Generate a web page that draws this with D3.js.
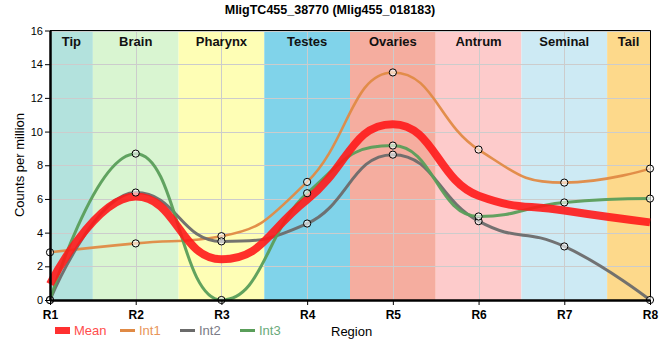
<!DOCTYPE html>
<html><head><meta charset="utf-8">
<script src="https://cdn.jsdelivr.net/npm/d3@7"></script>
<style>body{margin:0;background:#fff;font-family:"Liberation Sans",Arial,sans-serif;}</style>
</head><body><svg id="c" width="660" height="360"></svg>
<script>
const regions = ["R1","R2","R3","R4","R5","R6","R7","R8"];
const bandNames = ["Tip","Brain","Pharynx","Testes","Ovaries","Antrum","Seminal","Tail"];
const bandColors = ["#b3e2dd","#d9f5d1","#fefeb5","#80d3ea","#f5ad9f","#fdcbcb","#cdeaf4","#fdd98b"];
const int1 = [2.83, 3.36, 3.79, 7.01, 13.51, 8.93, 6.97, 7.80];
const int2 = [0, 6.38, 3.48, 4.54, 8.63, 4.68, 3.18, 0];
const int3 = [0, 8.69, 0, 6.34, 9.17, 4.96, 5.79, 6.02];
const mean = [0.94, 6.14, 2.42, 5.96, 10.44, 6.19, 5.31, 4.61];
const yTicks = [0,2,4,6,8,10,12,14,16];
const seriesNames = ["Mean","Int1","Int2","Int3"];
const seriesColors = ["#ff1a1a","#e08a45","#6b6b6b","#5a9e5a"];
const legendTextColors = ["#ff4d4d","#e8955a","#7a7a85","#6aaa7a"];

// Spline curve without overshoot (control-point smoothing)
function splineCurve(context){
  let pts = [];
  return {
    areaStart(){}, areaEnd(){},
    lineStart(){ pts = []; },
    point(px,py){ pts.push([+px,+py]); },
    lineEnd(){
      const n = pts.length, s = 1.1, d = s + 1;
      if(!n) return;
      const lc = [], rc = [];
      for(let i=0;i<n;i++){
        const [X,Y] = pts[i];
        if(i>0 && i<n-1){
          const [lX,lY] = pts[i-1], [nX,nY] = pts[i+1];
          const lcx=(s*X+lX)/d, rcx=(s*X+nX)/d;
          let lcy=(s*Y+lY)/d, rcy=(s*Y+nY)/d;
          const corr = ((rcy-lcy)*(rcx-X))/(rcx-lcx) + Y - rcy;
          lcy += corr; rcy += corr;
          if(lcy>lY && lcy>Y){ lcy=Math.max(lY,Y); rcy=2*Y-lcy; }
          else if(lcy<lY && lcy<Y){ lcy=Math.min(lY,Y); rcy=2*Y-lcy; }
          if(rcy>nY && rcy>Y){ rcy=Math.max(nY,Y); lcy=2*Y-rcy; }
          else if(rcy<nY && rcy<Y){ rcy=Math.min(nY,Y); lcy=2*Y-rcy; }
          lc[i]=[lcx,lcy]; rc[i]=[rcx,rcy];
        } else { lc[i]=[X,Y]; rc[i]=[X,Y]; }
      }
      context.moveTo(pts[0][0],pts[0][1]);
      for(let i=1;i<n;i++){
        context.bezierCurveTo(rc[i-1][0],rc[i-1][1],lc[i][0],lc[i][1],pts[i][0],pts[i][1]);
      }
    }
  };
}

const svg = d3.select("#c");
const L=50,R=650,T=30.5,B=300;
const x = d3.scalePoint().domain(regions).range([L,R]);
const step = x.step();
const y = d3.scaleLinear().domain([0,16]).range([B,T]);

// bands
const bg = svg.append("g");
bandNames.forEach((n,i)=>{
  const x0 = Math.max(L, x(regions[i]) - step/2), x1 = Math.min(R, x(regions[i]) + step/2);
  bg.append("rect").attr("x",x0).attr("y",T).attr("width",x1-x0).attr("height",B-T).attr("fill",bandColors[i]);
});
// grid
const grid = svg.append("g").attr("stroke","#cccccc").attr("stroke-width",1);
yTicks.forEach(t=>grid.append("line").attr("x1",L).attr("x2",R).attr("y1",Math.round(y(t))+0.5).attr("y2",Math.round(y(t))+0.5));
regions.forEach(r=>grid.append("line").attr("x1",Math.round(x(r))+0.5).attr("x2",Math.round(x(r))+0.5).attr("y1",T).attr("y2",B));
// band labels
bandNames.forEach((n,i)=>{
  const x0 = Math.max(L, x(regions[i]) - step/2), x1 = Math.min(R, x(regions[i]) + step/2);
  svg.append("text").attr("x",(x0+x1)/2).attr("y",46).attr("text-anchor","middle")
    .attr("font-size",13).attr("font-weight","bold").attr("fill","#111").text(n);
});
// frame top/right
svg.append("path").attr("d",`M${L},${T}H${R+0.5}V${B}`).attr("fill","none").attr("stroke","#000").attr("stroke-width",1);

// lines
const line = d3.line().x((d,i)=>x(regions[i])).y(d=>y(d)).curve(splineCurve);
const data = [mean,int1,int2,int3];
const widths = [8,2.6,3,3];
[1,2,3].forEach(k=>{
  svg.append("path").attr("d",line(data[k])).attr("fill","none").attr("stroke",seriesColors[k])
    .attr("stroke-width",widths[k]).attr("stroke-opacity",0.95);
});
svg.append("path").attr("d",line(mean)).attr("fill","none").attr("stroke",seriesColors[0])
  .attr("stroke-width",8).attr("stroke-opacity",0.9);
[1,2,3].forEach(k=>{
  svg.append("g").selectAll("circle").data(data[k]).join("circle")
    .attr("cx",(d,i)=>x(regions[i])).attr("cy",d=>y(d)).attr("r",3.6)
    .attr("fill","#fff").attr("fill-opacity",0.6).attr("stroke","#000").attr("stroke-width",1);
});

// axes
const ya = svg.append("g").attr("transform",`translate(${L},0)`)
  .call(d3.axisLeft(y).tickValues(yTicks).tickSize(5).tickSizeOuter(0));
ya.select(".domain").attr("stroke-width",2.5);
ya.selectAll("text").attr("font-size",11).attr("fill","#000").attr("font-family","Liberation Sans, Arial, sans-serif").attr("dx",1);
const xa = svg.append("g").attr("transform",`translate(0,${B})`)
  .call(d3.axisBottom(x).tickSize(5).tickSizeOuter(0));
xa.select(".domain").attr("stroke-width",2.5);
xa.selectAll("text").attr("font-size",12).attr("font-weight","bold").attr("fill","#000").attr("font-family","Liberation Sans, Arial, sans-serif").attr("dy","0.9em");

// title
svg.append("text").attr("x",330).attr("y",14).attr("text-anchor","middle").attr("font-size",12.5)
  .attr("font-weight","bold").text("MligTC455_38770 (Mlig455_018183)");
svg.append("text").attr("transform","translate(24,165) rotate(-90)").attr("text-anchor","middle")
  .attr("font-size",13).text("Counts per million");

// legend
const lx = [55,120,180,240];
seriesNames.forEach((n,i)=>{
  if(i===0) svg.append("rect").attr("x",lx[i]).attr("y",327).attr("width",15).attr("height",7).attr("fill",seriesColors[0]).attr("opacity",0.9);
  else svg.append("line").attr("x1",lx[i]).attr("x2",lx[i]+15).attr("y1",330.5).attr("y2",330.5).attr("stroke",seriesColors[i]).attr("stroke-width",3);
  svg.append("text").attr("x",lx[i]+19).attr("y",335).attr("font-size",13).attr("fill",legendTextColors[i]).text(n);
});
svg.append("text").attr("x",331).attr("y",336).attr("font-size",13).attr("fill","#000").text("Region");
</script></body></html>
